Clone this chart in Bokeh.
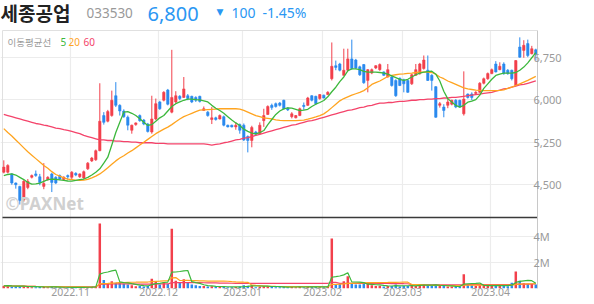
import pandas as pd
from bokeh.plotting import figure
from bokeh.models import Range1d, FixedTicker, Label, CustomJSTickFormatter
from bokeh.embed import file_html
from bokeh.resources import INLINE

# ---------------- data ----------------
open_ = [4720, 4720, 4690, 4530, 4470, 4230, 4450, 4630, 4690, 4640,
         4470, 4590, 4690, 4630, 4660, 4590, 4660, 4630, 4700, 4640,
         4620, 4780, 4920, 4940, 5100, 5720, 5620, 5720, 6070, 5900,
         5800, 5690, 5460, 5560, 5720, 5640, 5570, 5430, 5660, 5960,
         5990, 6170, 5780, 5960, 6060, 6040, 6070, 6060, 6040, 6060,
         5810, 5780, 5650, 5680, 5660, 5700, 5550, 5550, 5520, 5560,
         5550, 5350, 5280, 5430, 5400, 5630, 5740, 5900, 5930, 5940,
         5990, 5850, 5700, 5680, 5720, 5900, 5900, 6070, 6060, 6020,
         6080, 6090, 6370, 6600, 6630, 6430, 6520, 6720, 6700, 6580,
         6620, 6340, 6470, 6560, 6530, 6490, 6400, 6400, 6340, 6380,
         6350, 6340, 6280, 6430, 6460, 6550, 6520, 6430, 6230, 5900,
         5870, 5900, 5920, 5990, 5990, 5750, 6100, 6100, 6110, 6130,
         6290, 6370, 6460, 6630, 6530, 6630, 6520, 6520, 6250, 6930,
         6870, 6990, 6810, 6880]
high_ = [4930, 4860, 4700, 4540, 4480, 4580, 4600, 4680, 4750, 4690,
         4880, 4650, 4710, 4650, 4680, 4650, 4680, 4740, 4720, 4700,
         4750, 4900, 4990, 5120, 6290, 5780, 5820, 6160, 6310, 5920,
         5830, 5720, 5560, 5600, 5740, 5660, 5590, 6070, 6020, 5980,
         6150, 6190, 6880, 6150, 6080, 6400, 6100, 6070, 6060, 6070,
         5880, 5800, 5870, 5700, 5740, 5720, 5560, 5560, 5600, 5580,
         5580, 5370, 5540, 5450, 5600, 5840, 5900, 5930, 5950, 5960,
         6000, 5870, 5780, 5730, 5860, 5950, 6050, 6080, 6070, 6100,
         6090, 6150, 7010, 6690, 6650, 6900, 6900, 7060, 6720, 6600,
         6630, 6540, 6550, 6610, 6640, 6500, 6630, 6420, 6360, 6390,
         6370, 6360, 6460, 6630, 6650, 6780, 6780, 6450, 6240, 5960,
         5920, 6010, 6000, 6010, 6000, 6500, 6110, 6130, 6150, 6310,
         6390, 6480, 6550, 6680, 6660, 6660, 6540, 6530, 6700, 7100,
         7050, 7060, 6950, 6900]
low_ = [4700, 4700, 4500, 4430, 4150, 4200, 4420, 4610, 4640, 4490,
        4420, 4570, 4370, 4510, 4580, 4570, 4590, 4590, 4650, 4620,
        4600, 4760, 4900, 4920, 5090, 5560, 5600, 5700, 5870, 5720,
        5680, 5460, 5400, 5540, 5610, 5550, 5420, 5400, 5640, 5820,
        5970, 5900, 5760, 5930, 5990, 6030, 5990, 5940, 5960, 5950,
        5800, 5700, 5570, 5630, 5650, 5530, 5510, 5510, 5470, 5400,
        5270, 5070, 5160, 5370, 5390, 5520, 5730, 5820, 5860, 5880,
        5830, 5800, 5670, 5670, 5710, 5820, 5890, 5970, 5910, 6000,
        6020, 6080, 6340, 6520, 6500, 6420, 6500, 6530, 6540, 6420,
        6280, 6130, 6450, 6540, 6510, 6420, 6390, 6230, 6050, 6240,
        6130, 6120, 6260, 6420, 6440, 6530, 6330, 6160, 5680, 5860,
        5690, 5850, 5900, 5850, 5860, 5720, 6020, 5990, 6090, 6120,
        6270, 6350, 6450, 6480, 6520, 6440, 6440, 6340, 6240, 6740,
        6740, 6750, 6800, 6690]
close_ = [4810, 4840, 4530, 4500, 4220, 4560, 4560, 4660, 4660, 4540,
          4520, 4630, 4540, 4530, 4600, 4630, 4640, 4720, 4670, 4690,
          4730, 4880, 4970, 5100, 5620, 5600, 5790, 5990, 5900, 5800,
          5700, 5550, 5550, 5590, 5630, 5570, 5440, 5660, 5930, 5840,
          6130, 5920, 6040, 6070, 6020, 6190, 6020, 5960, 5990, 5970,
          5840, 5720, 5680, 5650, 5720, 5550, 5520, 5520, 5550, 5460,
          5290, 5280, 5510, 5390, 5550, 5720, 5880, 5860, 5880, 5900,
          5840, 5820, 5750, 5720, 5840, 5880, 6030, 5990, 5930, 6090,
          6030, 6130, 6590, 6570, 6520, 6520, 6720, 6550, 6560, 6440,
          6300, 6530, 6530, 6600, 6620, 6430, 6530, 6250, 6070, 6250,
          6280, 6130, 6440, 6530, 6630, 6700, 6340, 6340, 5690, 5930,
          5810, 5960, 5990, 5870, 5870, 6010, 6040, 6040, 6130, 6290,
          6370, 6460, 6530, 6490, 6590, 6460, 6460, 6370, 6690, 6750,
          6960, 6780, 6900, 6800]
ma5 = [4660, 4680, 4690, 4670, 4630, 4590, 4540, 4510, 4515, 4527,
       4560, 4590, 4600, 4595, 4586, 4575, 4565, 4562, 4575, 4590,
       4600, 4630, 4670, 4720, 4780, 4880, 4985, 5200, 5420, 5600,
       5780, 5790, 5760, 5720, 5663, 5600, 5545, 5560, 5620, 5680,
       5721, 5800, 5880, 5930, 5960, 5990, 6010, 6010, 6000, 5995,
       5980, 5960, 5900, 5850, 5809, 5760, 5700, 5640, 5590, 5545,
       5480, 5440, 5410, 5398, 5420, 5456, 5560, 5650, 5740, 5800,
       5839, 5855, 5850, 5830, 5809, 5815, 5830, 5880, 5920, 5950,
       5986, 6050, 6140, 6220, 6320, 6400, 6510, 6545, 6545, 6530,
       6500, 6485, 6485, 6485, 6480, 6470, 6450, 6420, 6390, 6360,
       6340, 6360, 6400, 6440, 6470, 6485, 6495, 6503, 6450, 6330,
       6150, 6015, 5960, 5898, 5870, 5900, 5956, 5975, 6000, 6080,
       6200, 6280, 6360, 6427, 6450, 6468, 6468, 6468, 6480, 6520,
       6575, 6650, 6740, 6830]
ma20 = [5490, 5420, 5360, 5290, 5220, 5150, 5080, 5020, 4960, 4900,
        4840, 4790, 4730, 4680, 4650, 4620, 4600, 4590, 4580, 4575,
        4580, 4595, 4620, 4650, 4690, 4740, 4800, 4860, 4920, 4970,
        5010, 5060, 5100, 5150, 5200, 5250, 5300, 5350, 5400, 5440,
        5480, 5515, 5560, 5610, 5660, 5700, 5730, 5760, 5790, 5815,
        5820, 5825, 5830, 5835, 5840, 5840, 5840, 5840, 5840, 5835,
        5810, 5780, 5750, 5720, 5700, 5680, 5670, 5660, 5645, 5635,
        5630, 5630, 5630, 5630, 5635, 5640, 5655, 5675, 5695, 5720,
        5750, 5800, 5860, 5920, 5980, 6020, 6050, 6080, 6105, 6130,
        6160, 6210, 6270, 6300, 6330, 6370, 6410, 6430, 6440, 6450,
        6455, 6465, 6470, 6480, 6485, 6485, 6485, 6480, 6450, 6400,
        6370, 6330, 6300, 6270, 6240, 6210, 6190, 6180, 6170, 6165,
        6160, 6160, 6160, 6160, 6165, 6175, 6200, 6220, 6250, 6280,
        6310, 6340, 6375, 6410]
ma60 = [5740, 5720, 5700, 5680, 5660, 5640, 5620, 5600, 5580, 5570,
        5550, 5540, 5520, 5500, 5490, 5470, 5460, 5440, 5420, 5400,
        5370, 5350, 5330, 5310, 5290, 5290, 5280, 5280, 5270, 5270,
        5260, 5260, 5250, 5250, 5240, 5240, 5240, 5240, 5230, 5230,
        5230, 5220, 5220, 5220, 5220, 5220, 5220, 5220, 5220, 5220,
        5220, 5210, 5200, 5210, 5220, 5240, 5250, 5270, 5290, 5300,
        5320, 5330, 5350, 5370, 5390, 5410, 5430, 5450, 5470, 5490,
        5510, 5530, 5550, 5560, 5580, 5600, 5620, 5630, 5650, 5670,
        5690, 5710, 5730, 5750, 5770, 5790, 5810, 5820, 5840, 5860,
        5870, 5890, 5900, 5920, 5940, 5940, 5950, 5950, 5960, 5970,
        5970, 5980, 5990, 5990, 6000, 6000, 6010, 6010, 6020, 6020,
        6030, 6030, 6040, 6040, 6050, 6060, 6070, 6080, 6090, 6100,
        6110, 6120, 6130, 6150, 6170, 6190, 6200, 6220, 6240, 6260,
        6270, 6290, 6310, 6330]
volume_m = [0.20, 0.25, 0.15, 0.12, 0.20, 0.18, 0.12, 0.10, 0.10, 0.12,
            0.15, 0.10, 0.12, 0.10, 0.08, 0.08, 0.10, 0.10, 0.08, 0.08,
            0.10, 0.12, 0.12, 0.18, 5.00, 0.65, 0.40, 0.55, 0.45, 0.50,
            0.35, 0.30, 0.25, 0.18, 0.20, 0.15, 0.20, 0.75, 0.55, 0.30,
            0.50, 0.35, 4.60, 0.60, 0.50, 0.72, 0.50, 0.30, 0.25, 0.20,
            0.20, 0.15, 0.18, 0.12, 0.12, 0.15, 0.10, 0.10, 0.12, 0.15,
            0.25, 0.22, 0.25, 0.10, 0.15, 0.20, 0.20, 0.12, 0.10, 0.10,
            0.12, 0.10, 0.15, 0.10, 0.12, 0.10, 0.15, 0.12, 0.12, 0.10,
            0.10, 0.15, 3.85, 0.35, 0.35, 0.55, 0.95, 0.35, 0.30, 0.30,
            0.35, 0.35, 0.25, 0.20, 0.22, 0.15, 0.20, 0.20, 0.30, 0.15,
            0.20, 0.20, 0.25, 0.20, 0.35, 0.30, 0.25, 0.20, 0.30, 0.20,
            0.20, 0.15, 0.15, 0.12, 0.15, 1.10, 0.30, 0.25, 0.20, 0.25,
            0.20, 0.20, 0.25, 0.25, 0.20, 0.20, 0.18, 0.45, 1.30, 0.60,
            0.40, 0.35, 0.35, 0.30]
month_labels = ["2022.11", "2022.12", "2023.01", "2023.02", "2023.03", "2023.04"]
month_start_idx = [17, 39, 60, 80, 100, 122]
price_ticks = [4500, 5250, 6000, 6750]
vol_ticks = [2e6, 4e6]
vol_tick_labels = ["2M", "4M"]

# ---------------- styling / geometry ----------------
UP, DOWN = "#f2404c", "#2b8aee"
C5, C20, C60 = "#3cb83c", "#ffa41f", "#f4436a"
GRID = "#ececec"
BORDER = "#e0e0e0"
LABEL = "#9a9a9a"
BLUE_TXT = "#2a97f3"

FRAME_H = 288                   # frame spans canvas y 0..288
CHART_H = 258                   # chart area: canvas y 30..288
P_LO, P_TOP = 2668, 7221        # price at chart bottom / chart top
P_PX = (P_TOP - P_LO) / CHART_H
P_HI = P_LO + FRAME_H * P_PX
V_PX = 19.85e6 / CHART_H
V_HI = FRAME_H * V_PX
SEP = 3921                      # panel separator (price units)
X0, X1 = -0.325, 133.425        # chart area left / right in candle units
XS = X0 - 2 / 4                 # frame left (2 px further left)

n = len(close_)
idx = list(range(n))
colors = [UP if c >= o else DOWN for o, c in zip(open_, close_)]
top = [max(o, c) for o, c in zip(open_, close_)]
bot = [min(o, c) for o, c in zip(open_, close_)]
vol = [v * 1e6 for v in volume_m]
vs = pd.Series(vol)
vma5 = vs.rolling(5, min_periods=1).mean().tolist()
vma20 = vs.rolling(20, min_periods=1).mean().tolist()
vma60 = vs.rolling(60, min_periods=1).mean().tolist()

p = figure(width=594, height=304, output_backend="svg", toolbar_location=None,
           x_range=Range1d(XS, X1), y_range=Range1d(P_LO, P_HI),
           y_axis_location="right", min_border_left=0, min_border_right=57,
           min_border_top=0, min_border_bottom=16)
p.extra_y_ranges = {"vol": Range1d(0, V_HI)}
p.background_fill_color = "white"
p.border_fill_color = "white"
p.outline_line_color = None

# ticks / grids
xt = [i - 0.3 for i in month_start_idx]
yt = price_ticks + [P_LO + v / V_PX * P_PX for v in vol_ticks]
yl = [f"{t:,}" for t in price_ticks] + vol_tick_labels

fmt_code = """
for (let j = 0; j < v.length; j++) { if (Math.abs(v[j] - tick) < 0.5) return l[j]; }
return '';
"""
xa = p.xaxis[0]
xa.ticker = FixedTicker(ticks=xt)
xa.formatter = CustomJSTickFormatter(args=dict(v=xt, l=month_labels), code=fmt_code)
xa.axis_line_color = None
xa.major_tick_line_color = None
xa.minor_tick_line_color = None
xa.major_tick_out = 0
xa.major_tick_in = 0
xa.major_label_standoff = -1
xa.major_label_text_font = "Noto Sans"
xa.major_label_text_font_size = "10.5px"
xa.major_label_text_color = LABEL

ya = p.yaxis[0]
ya.ticker = FixedTicker(ticks=yt)
ya.formatter = CustomJSTickFormatter(args=dict(v=yt, l=yl), code=fmt_code)
ya.bounds = (P_LO, P_TOP)
ya.axis_line_color = "#c8c8c8"
ya.major_tick_line_color = None
ya.minor_tick_line_color = None
ya.major_tick_out = 0
ya.major_tick_in = 0
ya.major_label_standoff = -4
ya.major_label_text_font = "Noto Sans"
ya.major_label_text_font_size = "11px"
ya.major_label_text_color = LABEL

p.xgrid.ticker = FixedTicker(ticks=xt)
p.ygrid.ticker = FixedTicker(ticks=yt)
p.xgrid.grid_line_color = GRID
p.ygrid.grid_line_color = GRID
p.xgrid.grid_line_width = 1.2
p.ygrid.grid_line_width = 1.2

# white header band (hides the grid above the chart area)
p.quad(left=XS - 1, right=X1 + 1, bottom=P_TOP, top=P_HI + 100,
       fill_color="white", line_color=None)
# chart border (top and left)
p.segment(x0=[X0, X0], y0=[P_TOP, P_TOP], x1=[X1, X0], y1=[P_TOP, P_LO],
          line_color=BORDER, line_width=1)

# candles
p.segment(x0=idx, y0=low_, x1=idx, y1=high_, line_color=colors, line_width=1)
p.vbar(x=idx, top=top, bottom=bot, width=0.62, fill_color=colors, line_color=colors, line_width=0.5)

# price moving averages
p.line(idx, ma60, line_color=C60, line_width=1.3)
p.line(idx, ma20, line_color=C20, line_width=1.3)
p.line(idx, ma5, line_color=C5, line_width=1.3)

# volume
p.vbar(x=idx, top=vol, bottom=0, width=0.62, fill_color=colors, line_color=None, y_range_name="vol")
p.line(idx, vma60, line_color=C60, line_width=1.2, y_range_name="vol")
p.line(idx, vma20, line_color=C20, line_width=1.2, y_range_name="vol")
p.line(idx, vma5, line_color=C5, line_width=1.2, y_range_name="vol")

# panel separator
p.segment(x0=[X0], y0=[SEP], x1=[X1], y1=[SEP], line_color="#3a3a3a", line_width=1.5)

def lab(text, sx, sy, color, size, font="Noto Sans CJK KR", style="normal"):
    p.add_layout(Label(x=sx, y=sy, x_units="screen", y_units="screen", text=text,
                       text_color=color, text_font=font, text_font_size=size,
                       text_font_style=style, text_baseline="middle", text_align="left"))

# legend of moving averages
lab("이동평균선", 7, 247, LABEL, "9.5px")
lab("5", 60, 247, C5, "10px", "Noto Sans")
lab("20", 68, 247, C20, "10px", "Noto Sans")
lab("60", 83, 247, C60, "10px", "Noto Sans")

# watermark
lab("©PAXNet", 5, 85, "#d0d0d0", "17px", "Noto Sans", "bold")

# header
lab("세종공업", 0, 276, "#222222", "19px", "Noto Sans CJK KR", "bold")
lab("033530", 86, 276, "#999999", "13.5px", "Noto Sans")
lab("6,800", 147, 275, BLUE_TXT, "20px", "Noto Sans")
lab("▼", 216, 277, BLUE_TXT, "9px", "DejaVu Sans")
lab("100", 231, 276, BLUE_TXT, "14px", "Noto Sans")
lab("-1.45%", 262, 276, BLUE_TXT, "14px", "Noto Sans")

open("out.html", "w").write(file_html(p, INLINE))
